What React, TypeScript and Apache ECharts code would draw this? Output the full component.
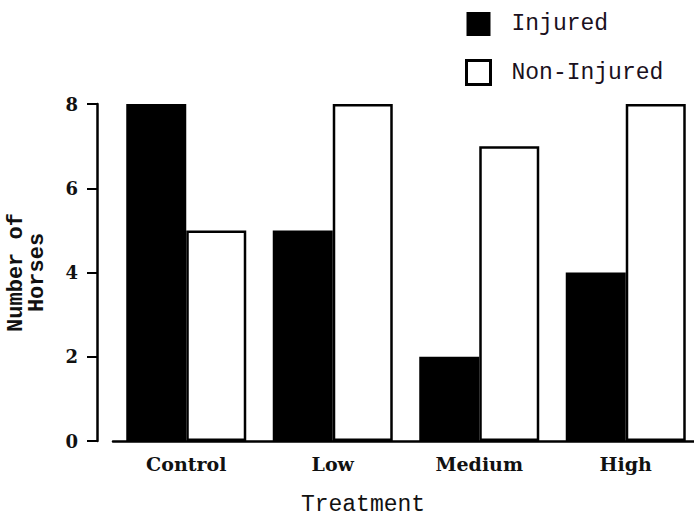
import React, { useEffect, useRef } from "react";
import * as echarts from "echarts";

const categories = ["Control", "Low", "Medium", "High"];
const injured = [8, 5, 2, 4];
const nonInjured = [5, 8, 7, 8];
const seriesNames = ["Injured", "Non-Injured"];
const yTicks = { min: 0, max: 8, interval: 2 };

const serif = "DejaVu Serif";
const mono = "Liberation Mono";

export default function App() {
  const ref = useRef<HTMLDivElement>(null);
  useEffect(() => {
    if (!ref.current) return;
    const chart = echarts.init(ref.current, null, { renderer: "svg" });
    chart.setOption({
      animation: false,
      backgroundColor: "#fff",
      legend: {
        orient: "vertical",
        left: 465,
        top: 12,
        padding: 0,
        itemWidth: 24,
        itemHeight: 24,
        itemGap: 23,
        icon: "rect",
        textStyle: {
          fontFamily: mono,
          fontSize: 23,
          color: "#1a1020",
          padding: [0, 0, 0, 16],
        },
        data: [
          { name: seriesNames[0], itemStyle: { color: "#000", borderWidth: 0 } },
          {
            name: seriesNames[1],
            itemStyle: { color: "#fff", borderColor: "#000", borderWidth: 3 },
          },
        ],
      },
      grid: {
        left: 113,
        top: 104,
        width: 586,
        height: 337,
        outerBoundsMode: "none",
        containLabel: false,
      },
      xAxis: {
        type: "category",
        data: categories,
        name: "Treatment",
        nameLocation: "middle",
        nameGap: 52,
        nameTextStyle: {
          fontFamily: mono,
          fontSize: 23,
          color: "#111",
          padding: [0, 86, 0, 0],
        },
        axisLine: { lineStyle: { color: "#000", width: 2.5 } },
        axisTick: { alignWithLabel: true, length: 8, lineStyle: { color: "#000", width: 2 } },
        axisLabel: {
          fontFamily: serif,
          fontWeight: "bold",
          fontSize: 19,
          color: "#111",
          margin: 13,
        },
      },
      yAxis: {
        type: "value",
        min: yTicks.min,
        max: yTicks.max,
        interval: yTicks.interval,
        offset: 16,
        name: "Number of\nHorses",
        nameLocation: "middle",
        nameRotate: 90,
        nameGap: 49,
        nameTextStyle: {
          fontFamily: mono,
          fontWeight: "bold",
          fontSize: 22,
          lineHeight: 21,
          color: "#111",
          align: "center",
        },
        splitLine: { show: false },
        axisLine: { show: true, lineStyle: { color: "#000", width: 2.5 } },
        axisTick: { show: true, length: 10, lineStyle: { color: "#000", width: 2 } },
        axisLabel: {
          fontFamily: serif,
          fontWeight: "bold",
          fontSize: 18,
          color: "#111",
          margin: 19,
        },
      },
      series: [
        {
          name: seriesNames[0],
          type: "bar",
          data: injured,
          barWidth: 60,
          barGap: "0%",
          itemStyle: { color: "#000" },
        },
        {
          name: seriesNames[1],
          type: "bar",
          data: nonInjured,
          barWidth: 60,
          barGap: "0%",
          itemStyle: { color: "#fff", borderColor: "#000", borderWidth: 2.5 },
        },
      ],
    });
    return () => chart.dispose();
  }, []);
  return (
    <div
      ref={ref}
      style={{ position: "fixed", left: 0, top: 0, width: 694, height: 516 }}
    />
  );
}
